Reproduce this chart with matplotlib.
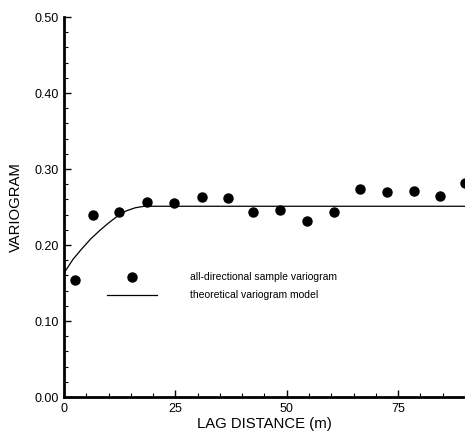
import matplotlib
matplotlib.use("Agg")
import matplotlib.pyplot as plt
from matplotlib.lines import Line2D
from matplotlib.ticker import MultipleLocator, FormatStrFormatter

plt.rcParams['font.family'] = ['Liberation Sans', 'DejaVu Sans']

# Sample variogram (lag distance m, variogram)
lag = [2.5, 6.4, 12.4, 18.6, 24.7, 30.9, 36.7, 42.5, 48.5, 54.5, 60.5,
       66.5, 72.5, 78.5, 84.3, 89.9]
gamma = [0.154, 0.239, 0.244, 0.257, 0.255, 0.263, 0.262, 0.244, 0.246,
         0.231, 0.244, 0.274, 0.270, 0.271, 0.265, 0.281]

# Theoretical model
model_lag = [0, 2, 4, 6, 8, 10, 12, 14, 16, 18, 90]
model_gamma = [0.163, 0.181, 0.195, 0.208, 0.219, 0.229, 0.238, 0.245,
               0.249, 0.251, 0.251]

xticks = [0, 25, 50, 75]
yticks = [0.00, 0.10, 0.20, 0.30, 0.40, 0.50]

fig = plt.figure(figsize=(4.65, 4.40), dpi=100)
ax = fig.add_axes([0.1376, 0.0977, 0.8624, 0.8636])

ax.plot(model_lag, model_gamma, color='black', lw=0.9, zorder=2)
ax.plot(lag, gamma, 'o', color='black', ms=6.5, zorder=3, clip_on=True)

ax.set_xlim(0, 90)
ax.set_ylim(0, 0.5)
ax.set_xticks(xticks)
ax.set_yticks(yticks)
ax.yaxis.set_major_formatter(FormatStrFormatter('%.2f'))
ax.xaxis.set_minor_locator(MultipleLocator(5))
ax.yaxis.set_minor_locator(MultipleLocator(0.02))

for s in ['top', 'right']:
    ax.spines[s].set_visible(False)
for s in ['left', 'bottom']:
    ax.spines[s].set_linewidth(2.0)

ax.tick_params(which='major', direction='in', length=5, width=1.0,
               labelsize=9, pad=4)
ax.tick_params(which='minor', direction='in', length=3, width=0.8)

ax.set_xlabel('LAG DISTANCE (m)', fontsize=10.7, labelpad=2)
ax.set_ylabel('VARIOGRAM', fontsize=10.7, labelpad=8)

handles = [Line2D([], [], marker='o', ls='none', color='black', ms=6.5),
           Line2D([], [], color='black', lw=0.9)]
labels = ['all-directional sample variogram', 'theoretical variogram model']
ax.legend(handles, labels, loc='upper left', bbox_to_anchor=(0.107, 0.328),
          frameon=False, fontsize=7.5, handlelength=4.8, handletextpad=3.2,
          labelspacing=0.75, borderpad=0, borderaxespad=0)

fig.savefig('out.png', dpi=100)
